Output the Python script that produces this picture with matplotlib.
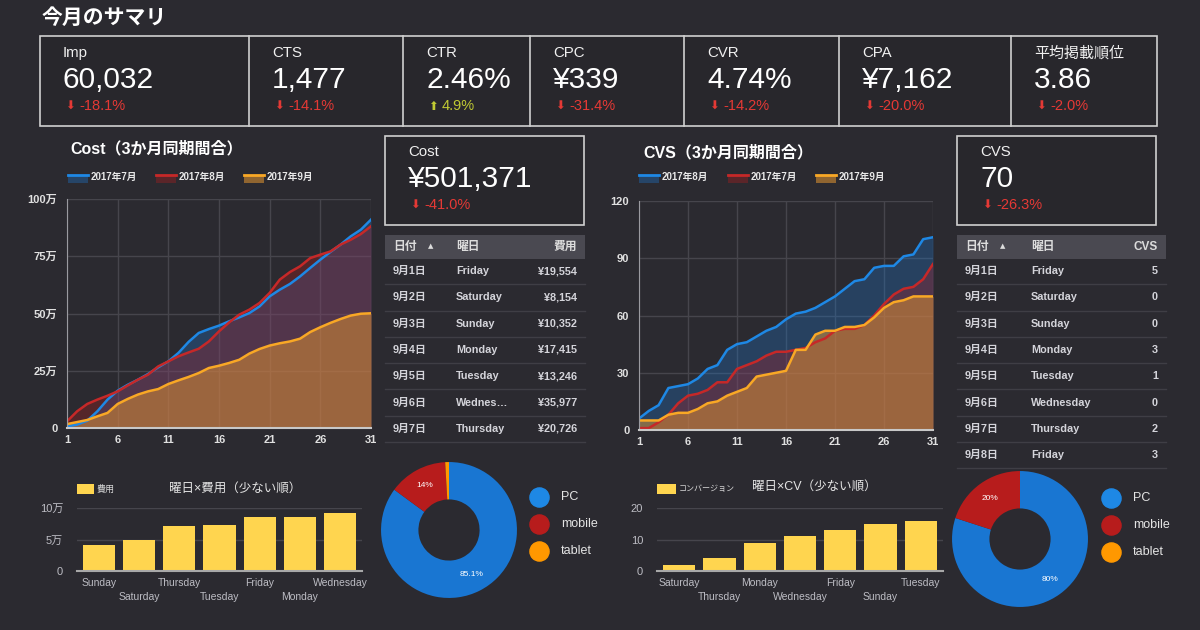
import numpy as np
import matplotlib.pyplot as plt
from matplotlib.patches import Rectangle

plt.rcParams['font.family'] = ['Liberation Sans', 'Noto Sans CJK JP', 'DejaVu Sans']

W, H = 1200, 630
BG = '#2b2a30'
BOXBG = '#28272c'
RED = '#e53935'
GREEN = '#c0ca33'
BAR = '#ffd54f'
GRID = '#46454c'

# --- KPI data ---
kpi_labels = ['Imp', 'CTS', 'CTR', 'CPC', 'CVR', 'CPA', '平均掲載順位']
kpi_values = ['60,032', '1,477', '2.46%', '¥339', '4.74%', '¥7,162', '3.86']
kpi_deltas = [-18.1, -14.1, 4.9, -31.4, -14.2, -20.0, -2.0]

# --- cumulative cost (万円) ---
days = np.arange(1, 32)
cost_jul = [0.7, 1.5, 3.2, 7.3, 12.4, 16.3, 18.9, 21.1, 23.6, 26.5, 29.1, 32.8, 37.6, 41.5, 43.2, 44.7,
            46.6, 48.3, 50.2, 53.1, 57.5, 60.4, 62.9, 66.2, 69.9, 73.5, 76.9, 80.1, 83.7, 86.6, 91.0]
cost_aug = [2.9, 7.3, 10.5, 12.4, 14.1, 16.0, 18.6, 21.1, 23.3, 26.9, 29.1, 31.3, 33.0, 34.6, 37.8, 42.2,
            46.1, 49.5, 51.7, 54.6, 59.0, 64.8, 68.1, 70.6, 74.2, 75.7, 77.1, 80.1, 82.2, 84.7, 88.1]
cost_sep = [1.7, 2.6, 3.5, 5.1, 6.6, 10.5, 12.7, 14.6, 16.0, 17.0, 19.2, 20.8, 22.3, 24.0, 26.2, 27.2,
            28.4, 29.8, 32.5, 34.5, 36.0, 37.0, 37.8, 39.0, 41.9, 44.0, 45.9, 47.6, 49.1, 49.9, 50.1]

# --- cumulative CVs ---
cvs_aug = [6, 10, 13, 22, 23, 24, 27, 32, 34, 42, 45, 46, 49, 52, 54, 58,
           61, 62, 64, 67, 70, 74, 78, 79, 85, 86, 86, 91, 92, 100, 101]
cvs_jul = [1, 1, 4, 8, 14, 18, 19, 21, 25, 25, 32, 34, 36, 39, 41, 41,
           42, 43, 46, 48, 52, 53, 53, 55, 60, 66, 71, 74, 75, 79, 87]
cvs_sep = [5, 5, 5, 8, 9, 9, 11, 14, 15, 18, 20, 22, 28, 29, 30, 31,
           42, 42, 50, 52, 52, 54, 54, 55, 59, 64, 67, 68, 70, 70, 70]

# --- tables ---
cost_dates = ['9月1日', '9月2日', '9月3日', '9月4日', '9月5日', '9月6日', '9月7日']
cost_wdays = ['Friday', 'Saturday', 'Sunday', 'Monday', 'Tuesday', 'Wednes…', 'Thursday']
cost_daily = ['¥19,554', '¥8,154', '¥10,352', '¥17,415', '¥13,246', '¥35,977', '¥20,726']
cv_dates = ['9月1日', '9月2日', '9月3日', '9月4日', '9月5日', '9月6日', '9月7日', '9月8日']
cv_wdays = ['Friday', 'Saturday', 'Sunday', 'Monday', 'Tuesday', 'Wednesday', 'Thursday', 'Friday']
cv_daily = [5, 0, 0, 3, 1, 0, 2, 3]

# --- weekday bars ---
wd_cost_names = ['Sunday', 'Saturday', 'Thursday', 'Tuesday', 'Friday', 'Monday', 'Wednesday']
wd_cost_vals = [4.1, 4.9, 7.1, 7.3, 8.5, 8.5, 9.2]   # 万円
wd_cv_names = ['Saturday', 'Thursday', 'Monday', 'Wednesday', 'Friday', 'Sunday', 'Tuesday']
wd_cv_vals = [2, 4, 9, 11, 13, 15, 16]

# --- device split ---
devices = ['PC', 'mobile', 'tablet']
dev_colors = ['#1976d2', '#b71c1c', '#ff9800']
dev_legend_colors = ['#1e88e5', '#b71c1c', '#ff9800']
dev_cost_share = [85.1, 14.0, 0.9]
dev_cv_count = [56, 14, 0]

fig = plt.figure(figsize=(12, 6.3), dpi=100, facecolor=BG)
ov = fig.add_axes([0, 0, 1, 1])
ov.set_xlim(0, W)
ov.set_ylim(H, 0)
ov.axis('off')


def frect(l, t, r, b):
    return [l / W, 1 - b / H, (r - l) / W, (b - t) / H]


def txt(x, y, s, size=9, color='#e6e6e6', ha='left', weight='normal', **kw):
    ov.text(x, y, s, fontsize=size, color=color, ha=ha, va='center', fontweight=weight, **kw)


def box(l, t, r, b, fc, ec='none', lw=1.2):
    ov.add_patch(Rectangle((l, t), r - l, b - t, facecolor=fc, edgecolor=ec, lw=lw))


def delta(x, y, d, size=10.5):
    col = RED if d < 0 else GREEN
    arrow = '⬇' if d < 0 else '⬆'
    ov.text(x, y, arrow, fontsize=size - 2, color=col, va='center', family=['DejaVu Sans'])
    ov.text(x + 14, y, f'{d:.1f}%', fontsize=size, color=col, va='center')


def kpi(x, label, value, d, y0):
    txt(x, y0, label, 10.8, '#f0f0f0')
    txt(x, y0 + 27, value, 21.5, 'white')
    delta(x + 2, y0 + 53, d)


# title + KPI strip
txt(42, 18, '今月のサマリ', 15, 'white', weight='bold')
dividers = [40, 249, 403, 530, 684, 839, 1011, 1157]
box(40, 36, 1157, 126, BOXBG, '#d0d0d0')
for x in dividers[1:-1]:
    ov.plot([x, x], [36, 126], color='#d0d0d0', lw=1.2)
for i in range(len(kpi_labels)):
    kpi(dividers[i] + 23, kpi_labels[i], kpi_values[i], kpi_deltas[i], 53)


def legend_swatch(x, y, line_col, fill_col, alpha, label):
    box(x, y - 3, x + 20, y + 5, fill_col)
    ov.patches[-1].set_alpha(alpha)
    ov.plot([x, x + 20], [y - 3, y - 3], color=line_col, lw=2)
    txt(x + 23, y - 1, label, 7, '#e8e8e8', weight='bold')


def line_chart(rect, series, ymax, yticks, ylabels):
    ax = fig.add_axes(rect)
    ax.set_facecolor('none')
    for vals, lc, fc, a in series:
        ax.fill_between(days, vals, color=fc, alpha=a, lw=0)
    for vals, lc, fc, a in series:
        ax.plot(days, vals, color=lc, lw=1.8)
    ax.set_xlim(1, 31)
    ax.set_ylim(0, ymax)
    ax.set_xticks([1, 6, 11, 16, 21, 26, 31])
    ax.set_yticks(yticks)
    ax.set_yticklabels(ylabels)
    ax.grid(color=GRID, lw=1)
    ax.set_axisbelow(True)
    for s in ['top', 'right']:
        ax.spines[s].set_visible(False)
    ax.spines['left'].set_color('#9a9aa0')
    ax.spines['bottom'].set_color('#c8c8c8')
    ax.spines['bottom'].set_linewidth(1.5)
    ax.tick_params(length=0, colors='#e0e0e0', labelsize=8)
    ax.tick_params(axis='x', pad=5)
    ax.tick_params(axis='y', pad=7)
    for t in ax.get_xticklabels() + ax.get_yticklabels():
        t.set_fontweight('bold')
    return ax


BLUE_L, RED_L, YEL_L = '#1e88e5', '#c62828', '#f9a825'
BLUE_F, RED_F, YEL_F = '#1e78d2', '#b71c1c', '#f5a030'

# Cost line chart
txt(70, 149, 'Cost（3か月同期間合）', 11.5, 'white', weight='bold')
legend_swatch(68, 178, BLUE_L, BLUE_F, 0.35, '2017年7月')
legend_swatch(156, 178, RED_L, RED_F, 0.35, '2017年8月')
legend_swatch(244, 178, YEL_L, YEL_F, 0.5, '2017年9月')
line_chart(frect(67, 199, 371, 428),
           [(cost_jul, BLUE_L, BLUE_F, 0.3), (cost_aug, RED_L, RED_F, 0.3), (cost_sep, YEL_L, YEL_F, 0.45)],
           100, [0, 25, 50, 75, 100], ['0', '25万', '50万', '75万', '100万'])

# CVS line chart
txt(643, 153, 'CVS（3か月同期間合）', 11.5, 'white', weight='bold')
legend_swatch(639, 178, BLUE_L, BLUE_F, 0.35, '2017年8月')
legend_swatch(728, 178, RED_L, RED_F, 0.35, '2017年7月')
legend_swatch(816, 178, YEL_L, YEL_F, 0.5, '2017年9月')
line_chart(frect(639, 201, 933, 430),
           [(cvs_aug, BLUE_L, BLUE_F, 0.3), (cvs_jul, RED_L, RED_F, 0.3), (cvs_sep, YEL_L, YEL_F, 0.45)],
           120, [0, 30, 60, 90, 120], ['0', '30', '60', '90', '120'])

# KPI boxes next to charts
box(385, 136, 584, 225, BOXBG, '#d0d0d0')
kpi(408, 'Cost', '¥501,371', -41.0, 152)
box(957, 136, 1156, 225, BOXBG, '#d0d0d0')
kpi(980, 'CVS', '70', -26.3, 152)


def table(l, r, col2_x, head3, dates, wdays, vals):
    box(l, 235, r, 259, '#4a4951')
    txt(l + 8, 247, '日付', 8.5, '#dcdcdc', weight='bold')
    txt(l + 43, 246, '▲', 5, '#dcdcdc', family=['DejaVu Sans'])
    txt(col2_x, 247, '曜日', 8.5, '#dcdcdc', weight='bold')
    txt(r - 8, 247, head3, 8.5, '#dcdcdc', ha='right', weight='bold')
    for i in range(len(dates)):
        y = 271 + 26.3 * i
        txt(l + 8, y, dates[i], 7.8, '#d4d4da', weight='bold')
        txt(col2_x, y, wdays[i], 7.8, '#d4d4da', weight='bold')
        txt(r - 8, y, str(vals[i]), 7.8, '#d4d4da', ha='right', weight='bold')
        ov.plot([l, r], [y + 13.2, y + 13.2], color='#3f3e45', lw=1)


table(385, 585, 456, '費用', cost_dates, cost_wdays, cost_daily)
table(957, 1166, 1031, 'CVS', cv_dates, cv_wdays, cv_daily)


def bar_chart(rect, names, vals, ymax, yticks, ylabels):
    ax = fig.add_axes(rect)
    ax.set_facecolor('none')
    x = np.arange(len(names))
    ax.bar(x, vals, width=0.8, color=BAR, zorder=3)
    ax.set_xlim(-0.55, len(names) - 0.45)
    ax.set_ylim(0, ymax)
    ax.set_yticks(yticks)
    ax.set_yticklabels(ylabels)
    ax.set_xticks([])
    # staggered category labels, two rows
    for i, n in enumerate(names):
        off = -8.6 if i % 2 == 0 else -18.7
        ax.annotate(n, (i, 0), xycoords=('data', 'axes fraction'), xytext=(0, off),
                    textcoords='offset points', ha='center', va='center',
                    fontsize=7.5, color='#bdbdc4')
    ax.grid(axis='y', color=GRID, lw=1)
    for s in ['top', 'right', 'left']:
        ax.spines[s].set_visible(False)
    ax.spines['bottom'].set_color('#a8a8a8')
    ax.spines['bottom'].set_linewidth(1.5)
    ax.spines['bottom'].set_zorder(4)
    ax.tick_params(length=0, colors='#bdbdc4', labelsize=8)
    ax.tick_params(axis='y', pad=10)
    return ax


# weekday x cost
box(77, 484, 94, 494, BAR)
txt(97, 489, '費用', 6.5, '#d8d8d8')
txt(169, 489, '曜日×費用（少ない順）', 9, '#e4e4e4')
bar_chart(frect(77, 508, 362, 571), wd_cost_names, wd_cost_vals, 10, [0, 5, 10], ['0', '5万', '10万'])

# weekday x CV
box(657, 484, 676, 494, BAR)
txt(679, 489, 'コンバージョン', 5.8, '#d8d8d8')
txt(752, 487, '曜日×CV（少ない順）', 9, '#e4e4e4')
bar_chart(frect(657, 508, 943, 571), wd_cv_names, wd_cv_vals, 20, [0, 10, 20], ['0', '10', '20'])


def donut(cx, cy, vals, lx, ly):
    ax = fig.add_axes(frect(cx - 70, cy - 70, cx + 70, cy + 70))
    ax.pie(vals, colors=dev_colors, startangle=90, counterclock=False,
           wedgeprops=dict(width=0.55, linewidth=0),
           autopct=lambda p: f'{p:.3g}%' if p >= 5 else '', pctdistance=0.74,
           textprops=dict(color='white', fontsize=6))
    ax.set_xlim(-1.03, 1.03)
    ax.set_ylim(-1.03, 1.03)
    ax.set_aspect('equal')
    for i, name in enumerate(devices):
        y = ly + 27 * i
        ov.scatter([lx], [y], s=190, color=dev_legend_colors[i], zorder=5)
        txt(lx + 22, y, name, 9, '#e4e4e4')


donut(449, 530, dev_cost_share, 539, 497)
donut(1020, 539, dev_cv_count, 1111, 498)

fig.savefig('out.png', dpi=100, facecolor=BG)
